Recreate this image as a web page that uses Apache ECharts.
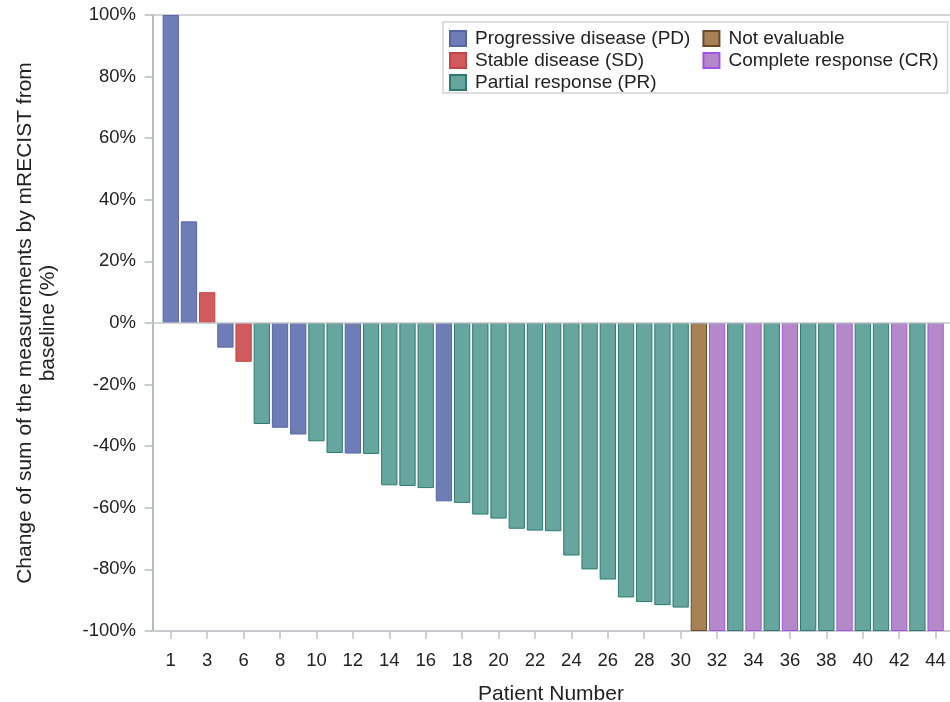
<!DOCTYPE html>
<html>
<head>
<meta charset="utf-8">
<script src="https://cdn.jsdelivr.net/npm/echarts@6/dist/echarts.min.js"></script>
<style>
  html, body { margin: 0; padding: 0; background: #ffffff; }
  #chart { width: 950px; height: 702px; }
</style>
</head>
<body>
<div id="chart"></div>
<script>
// Patient numbers in plotted order (sorted by best change from baseline)
const patients = [1, 2, 3, 5, 6, 7, 8, 9, 10, 11, 12, 13, 14, 15, 16, 17, 18, 19, 20, 21, 22,
  23, 24, 25, 26, 27, 28, 29, 30, 31, 32, 33, 34, 35, 36, 37, 38, 39, 40, 41, 42, 43, 44];

// Best percent change of the sum of measurements (mRECIST)
const changes = [100, 33, 10, -8, -12.6, -32.8, -34, -36.2, -38.4, -42.2, -42.4, -42.5,
  -52.7, -52.9, -53.6, -57.9, -58.4, -62.2, -63.5, -66.8, -67.4, -67.6, -75.5, -80.0,
  -83.3, -89.1, -90.6, -91.6, -92.4, -100, -100, -100, -100, -100, -100, -100, -100,
  -100, -100, -100, -100, -100, -100];

// Best overall response per patient
const responses = ['PD', 'PD', 'SD', 'PD', 'SD', 'PR', 'PD', 'PD', 'PR', 'PR', 'PD', 'PR',
  'PR', 'PR', 'PR', 'PD', 'PR', 'PR', 'PR', 'PR', 'PR', 'PR', 'PR', 'PR',
  'PR', 'PR', 'PR', 'PR', 'PR', 'NE', 'CR', 'PR', 'CR', 'PR', 'CR', 'PR', 'PR',
  'CR', 'PR', 'PR', 'CR', 'PR', 'CR'];

// Response groups: legend name, fill, outline
const groups = [
  { code: 'PD', name: 'Progressive disease (PD)', fill: '#6e7db5', border: '#5666a6' },
  { code: 'SD', name: 'Stable disease (SD)', fill: '#d15a5c', border: '#c04648' },
  { code: 'PR', name: 'Partial response (PR)', fill: '#67a69e', border: '#2a7b70' },
  { code: 'NE', name: 'Not evaluable', fill: '#a68156', border: '#6a4a28' },
  { code: 'CR', name: 'Complete response (CR)', fill: '#b588ca', border: '#a452e6' }
];

const positions = patients.map((p, i) => i + 1);
const tickPositions = positions.filter((p, i) => i % 2 === 0);
const frameColor = '#c2c5c8';

const series = groups.map((g, gi) => {
  const data = [];
  changes.forEach((v, i) => {
    if (responses[i] === g.code) data.push([positions[i], v]);
  });
  const s = {
    name: g.name,
    type: 'bar',
    data: data,
    barWidth: 16.3,
    barGap: '-100%',
    itemStyle: { color: g.fill, borderColor: g.border, borderWidth: 1 },
    emphasis: { disabled: true }
  };
  if (gi === 0) {
    s.markLine = {
      silent: true,
      symbol: 'none',
      label: { show: false },
      lineStyle: { color: frameColor, width: 1.5, type: 'solid' },
      data: [{ yAxis: 0 }]
    };
  }
  return s;
});

const chart = echarts.init(document.getElementById('chart'));
chart.setOption({
  animation: false,
  textStyle: { fontFamily: 'Liberation Sans, Arial, sans-serif' },
  grid: { left: 152, right: 0, top: 15, bottom: 71, containLabel: false, outerBoundsMode: 'none' },
  legend: {
    orient: 'vertical',
    left: 443,
    top: 22,
    height: 68,
    padding: [7, 0, 1, 6],
    itemGap: 3,
    itemWidth: 16,
    itemHeight: 15,
    icon: 'rect',
    borderColor: '#d3d3d3',
    borderWidth: 1.5,
    backgroundColor: '#ffffff',
    textStyle: { fontSize: 19, lineHeight: 19, color: '#222222', padding: [0, 9, 0, 4] },
    data: groups.map(g => g.name)
  },
  xAxis: [
    {
      type: 'value',
      position: 'bottom',
      min: -0.03,
      max: 43.79,
      name: 'Patient Number',
      nameLocation: 'middle',
      nameGap: 53,
      nameTextStyle: { fontSize: 21, color: '#222222' },
      axisLine: { show: true, onZero: false, lineStyle: { color: '#c8cacd', width: 2 } },
      axisTick: { show: true, length: 8, customValues: tickPositions, lineStyle: { color: '#c0c3c6', width: 1.5 } },
      axisLabel: {
        customValues: tickPositions,
        margin: 20,
        fontSize: 18.5,
        color: '#222222',
        formatter: v => String(patients[Math.round(v) - 1])
      },
      splitLine: { show: false }
    },
    {
      type: 'value',
      position: 'top',
      min: -0.03,
      max: 43.79,
      axisLine: { show: true, onZero: false, lineStyle: { color: frameColor, width: 1.5 } },
      axisTick: { show: false },
      axisLabel: { show: false },
      splitLine: { show: false }
    }
  ],
  yAxis: {
    type: 'value',
    min: -100,
    max: 100,
    interval: 20,
    name: 'Change of sum of the measurements by mRECIST from\nbaseline (%)',
    nameLocation: 'middle',
    nameGap: 92,
    nameTextStyle: { fontSize: 21, color: '#222222', lineHeight: 23 },
    axisLine: { show: true, lineStyle: { color: '#b8bbbe', width: 2 } },
    axisTick: { show: true, length: 8, lineStyle: { color: '#b8bbbe', width: 1.5 } },
    axisLabel: { fontSize: 18.5, color: '#222222', margin: 16, formatter: '{value}%' },
    splitLine: { show: false }
  },
  series: series
});
</script>
</body>
</html>
